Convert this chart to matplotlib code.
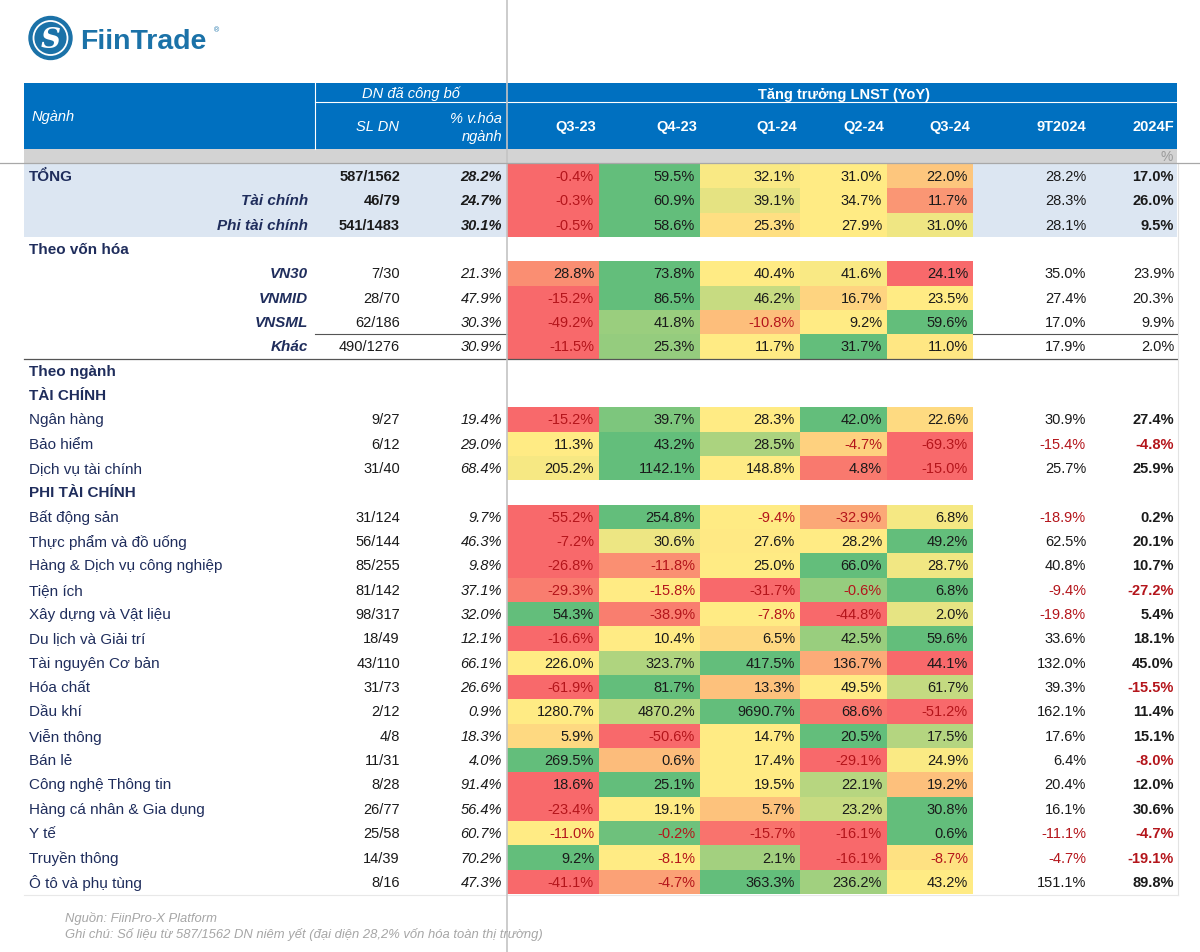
#!/usr/bin/env python3
# LNST growth table (FiinTrade) rebuilt as a matplotlib table/heatmap

import matplotlib
matplotlib.use('Agg')
import matplotlib.pyplot as plt
from matplotlib.patches import Rectangle, Circle
import numpy as np

plt.rcParams['font.family'] = ['Liberation Sans', 'DejaVu Sans']

# ---- data -------------------------------------------------------------
labels = ["TỔNG", "Tài chính", "Phi tài chính", "Theo vốn hóa", "VN30", "VNMID",
          "VNSML", "Khác", "Theo ngành", "TÀI CHÍNH", "Ngân hàng", "Bảo hiểm",
          "Dịch vụ tài chính", "PHI TÀI CHÍNH", "Bất động sản", "Thực phẩm và đồ uống",
          "Hàng & Dịch vụ công nghiệp", "Tiện ích", "Xây dựng và Vật liệu",
          "Du lịch và Giải trí", "Tài nguyên Cơ bản", "Hóa chất", "Dầu khí",
          "Viễn thông", "Bán lẻ", "Công nghệ Thông tin", "Hàng cá nhân & Gia dụng",
          "Y tế", "Truyền thông", "Ô tô và phụ tùng"]
# row kinds: total, sub, section, cap, group, sector
kinds = ["total", "sub", "sub", "section", "cap", "cap", "cap", "cap", "section",
         "group", "sector", "sector", "sector", "group"] + ["sector"] * 16

sl_dn = ["587/1562", "46/79", "541/1483", None, "7/30", "28/70", "62/186", "490/1276",
         None, None, "9/27", "6/12", "31/40", None, "31/124", "56/144", "85/255",
         "81/142", "98/317", "18/49", "43/110", "31/73", "2/12", "4/8", "11/31",
         "8/28", "26/77", "25/58", "14/39", "8/16"]
pct_cap = [28.2, 24.7, 30.1, None, 21.3, 47.9, 30.3, 30.9, None, None, 19.4, 29.0,
           68.4, None, 9.7, 46.3, 9.8, 37.1, 32.0, 12.1, 66.1, 26.6, 0.9, 18.3, 4.0,
           91.4, 56.4, 60.7, 70.2, 47.3]

quarters = ["Q3-23", "Q4-23", "Q1-24", "Q2-24", "Q3-24"]
q3_23 = [-0.4, -0.3, -0.5, None, 28.8, -15.2, -49.2, -11.5, None, None, -15.2, 11.3,
         205.2, None, -55.2, -7.2, -26.8, -29.3, 54.3, -16.6, 226.0, -61.9, 1280.7,
         5.9, 269.5, 18.6, -23.4, -11.0, 9.2, -41.1]
q4_23 = [59.5, 60.9, 58.6, None, 73.8, 86.5, 41.8, 25.3, None, None, 39.7, 43.2,
         1142.1, None, 254.8, 30.6, -11.8, -15.8, -38.9, 10.4, 323.7, 81.7, 4870.2,
         -50.6, 0.6, 25.1, 19.1, -0.2, -8.1, -4.7]
q1_24 = [32.1, 39.1, 25.3, None, 40.4, 46.2, -10.8, 11.7, None, None, 28.3, 28.5,
         148.8, None, -9.4, 27.6, 25.0, -31.7, -7.8, 6.5, 417.5, 13.3, 9690.7, 14.7,
         17.4, 19.5, 5.7, -15.7, 2.1, 363.3]
q2_24 = [31.0, 34.7, 27.9, None, 41.6, 16.7, 9.2, 31.7, None, None, 42.0, -4.7, 4.8,
         None, -32.9, 28.2, 66.0, -0.6, -44.8, 42.5, 136.7, 49.5, 68.6, 20.5, -29.1,
         22.1, 23.2, -16.1, -16.1, 236.2]
q3_24 = [22.0, 11.7, 31.0, None, 24.1, 23.5, 59.6, 11.0, None, None, 22.6, -69.3,
         -15.0, None, 6.8, 49.2, 28.7, 6.8, 2.0, 59.6, 44.1, 61.7, -51.2, 17.5, 24.9,
         19.2, 30.8, 0.6, -8.7, 43.2]
ytd_9t = [28.2, 28.3, 28.1, None, 35.0, 27.4, 17.0, 17.9, None, None, 30.9, -15.4,
          25.7, None, -18.9, 62.5, 40.8, -9.4, -19.8, 33.6, 132.0, 39.3, 162.1, 17.6,
          6.4, 20.4, 16.1, -11.1, -4.7, 151.1]
f2024 = [17.0, 26.0, 9.5, None, 23.9, 20.3, 9.9, 2.0, None, None, 27.4, -4.8, 25.9,
         None, 0.2, 20.1, 10.7, -27.2, 5.4, 18.1, 45.0, -15.5, 11.4, 15.1, -8.0, 12.0,
         30.6, -4.7, -19.1, 89.8]

# ---- layout (pixels) ----------------------------------------------------
W, H = 1200, 953
left, right = 24, 1177
row0, pitch = 177, 24.34
q_edges = [507, 599, 700, 800, 887, 973]
navy = '#1F2D5C'
ink = '#1A1A1A'
neg = '#B4151B'
red, yel, grn = np.array([248, 105, 107]), np.array([255, 235, 132]), np.array([99, 190, 123])


def scale_color(v, lo, mid, hi):
    if v <= mid:
        t = 0 if mid == lo else (v - lo) / (mid - lo)
        c = red + t * (yel - red)
    else:
        t = (v - mid) / (hi - mid)
        c = yel + t * (grn - yel)
    return tuple(c / 255)


def fmt(v):
    return '{:.1f}%'.format(v)


fig = plt.figure(figsize=(W / 100, H / 100), dpi=100)
ax = fig.add_axes([0, 0, 1, 1])
ax.set_xlim(0, W)
ax.set_ylim(H, 0)
ax.axis('off')

# logo
ax.add_patch(Circle((50.5, 39), 21.5, color='#1B72A8'))
ax.add_patch(Circle((50.5, 39), 17, fill=False, ec='white', lw=1.3))
ax.text(50.5, 40, 'S', color='white', fontsize=20, ha='center', va='center',
        family='DejaVu Serif', style='italic', fontweight='bold')
ax.text(80, 49, 'FiinTrade', color='#1B72A8', fontsize=20.5, fontweight='bold',
        ha='left', va='baseline')
ax.text(214, 31, '®', color='#1B72A8', fontsize=5, ha='left', va='center')

# header band
ax.add_patch(Rectangle((left, 84), right - left, 66, color='#0070C0', lw=0))
ax.plot([315, right], [103, 103], color='white', lw=0.8)
ax.plot([315, 315], [84, 150], color='white', lw=0.8)
ax.text(32, 117, 'Ngành', color='white', fontsize=10.5, style='italic', va='center')
ax.text(411, 94, 'DN đã công bố', color='white', fontsize=10.5, style='italic',
        ha='center', va='center')
ax.text(399, 127, 'SL DN', color='white', fontsize=10.5, style='italic', ha='right', va='center')
ax.text(502, 119, '% v.hóa', color='white', fontsize=10.5, style='italic', ha='right', va='center')
ax.text(502, 137, 'ngành', color='white', fontsize=10.5, style='italic', ha='right', va='center')
ax.text(844, 95, 'Tăng trưởng LNST (YoY)', color='white', fontsize=10.5, fontweight='bold',
        ha='center', va='center')
for k, q in enumerate(quarters):
    ax.text(q_edges[k + 1] - 3, 127, q, color='white', fontsize=10.5, fontweight='bold',
            ha='right', va='center')
ax.text(1086, 127, '9T2024', color='white', fontsize=10.5, fontweight='bold', ha='right', va='center')
ax.text(1174, 127, '2024F', color='white', fontsize=10.5, fontweight='bold', ha='right', va='center')

# gray unit band
ax.add_patch(Rectangle((left, 150), right - left, 14, color='#D3D3D3', lw=0))
ax.text(1173, 157, '%', color='#9A9A9A', fontsize=10, ha='right', va='center')

# light blue total rows
ax.add_patch(Rectangle((left, row0 - pitch / 2), right - left, pitch * 3, color='#DCE6F2', lw=0))

# lines around cap group
y_vnsml = row0 + 6 * pitch + pitch / 2
ax.plot([315, 507], [y_vnsml, y_vnsml], color='#555555', lw=0.8)
ax.plot([973, right], [y_vnsml, y_vnsml], color='#555555', lw=0.8)
y_khac = row0 + 7 * pitch + pitch / 2
ax.plot([left, right], [y_khac, y_khac], color='#555555', lw=0.9)

qcols = [q3_23, q4_23, q1_24, q2_24, q3_24]
for i, lab in enumerate(labels):
    y = row0 + i * pitch
    kind = kinds[i]
    # label
    if kind in ('sub', 'cap'):
        ax.text(308, y, lab, color=navy, fontsize=11, fontweight='bold', style='italic',
                ha='right', va='center')
    elif kind in ('total', 'section', 'group'):
        ax.text(29, y, lab, color=navy, fontsize=11, fontweight='bold', ha='left', va='center')
    else:
        ax.text(29, y, lab, color=navy, fontsize=11, ha='left', va='center')
    if sl_dn[i] is None:
        continue
    bold_main = kind in ('total', 'sub')
    ax.text(400, y, sl_dn[i], color=ink, fontsize=10.5,
            fontweight='bold' if bold_main else 'normal', ha='right', va='center')
    ax.text(502, y, fmt(pct_cap[i]), color=ink, fontsize=10.5, style='italic',
            fontweight='bold' if bold_main else 'normal', ha='right', va='center')
    # heatmap cells, colour scale per row (min / median / max)
    vals = [c[i] for c in qcols]
    lo, mid, hi = min(vals), float(np.median(vals)), max(vals)
    for k, v in enumerate(vals):
        x0, x1 = q_edges[k], q_edges[k + 1]
        ax.add_patch(Rectangle((x0, y - pitch / 2), x1 - x0, pitch,
                               color=scale_color(v, lo, mid, hi), lw=0))
        ax.text(x1 - 5, y, fmt(v), color=neg if v < 0 else ink, fontsize=10.5,
                ha='right', va='center')
    v9 = ytd_9t[i]
    ax.text(1086, y, fmt(v9), color=neg if v9 < 0 else ink, fontsize=10.5,
            ha='right', va='center')
    vf = f2024[i]
    ax.text(1174, y, fmt(vf), color=neg if vf < 0 else ink, fontsize=10.5,
            fontweight='normal' if kind == 'cap' else 'bold', ha='right', va='center')

# faint page gridlines
ax.plot([1178, 1178], [164, 896], color='#E3E3E3', lw=0.8)
ax.plot([24, 1178], [896, 896], color='#E8E8E8', lw=0.8)

# screen freeze lines
ax.plot([507, 507], [0, H], color='#C4C4C4', lw=1.2)
ax.plot([0, W], [164, 164], color='#A8A8A8', lw=0.9)

# footer
ax.text(65, 919, 'Nguồn: FiinPro-X Platform', color='#A6A6A6', fontsize=9.4,
        style='italic', va='center')
ax.text(65, 935, 'Ghi chú: Số liệu từ 587/1562 DN niêm yết (đại diện 28,2% vốn hóa toàn thị trường)',
        color='#A6A6A6', fontsize=9.4, style='italic', va='center')

fig.savefig('out.png', dpi=100)
print('Generated: out.png')
